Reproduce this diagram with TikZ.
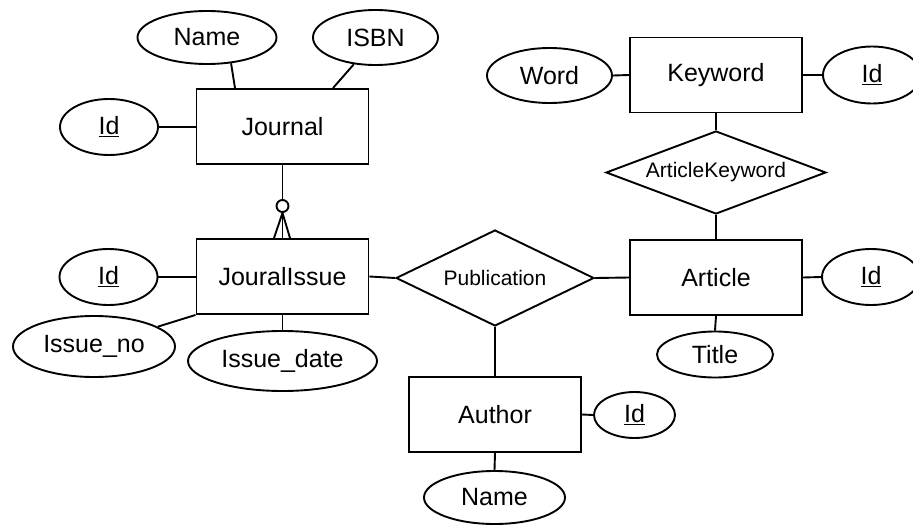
\documentclass[tikz,border=0pt]{standalone}
\usepackage{fontspec}
\setmainfont{Liberation Sans}
\usetikzlibrary{shapes.geometric}
\begin{document}
\begin{tikzpicture}[x=1pt,y=-1pt, line width=1.9pt,
  entity/.style={draw, rectangle, minimum width=172pt, minimum height=75pt, inner sep=0pt, font=\fontsize{25}{30}\selectfont},
  attr/.style={draw, ellipse, inner sep=0pt, font=\fontsize{25}{30}\selectfont},
  rel/.style={draw, diamond, shape aspect=3, inner sep=0pt, font=\fontsize{21}{25}\selectfont},
  foot/.style={draw, circle, minimum size=12pt, inner sep=0pt}]
\useasboundingbox (0,0) rectangle (913,527);
\fill[white] (0,0) rectangle (913,527);
% entities
\node[entity] (jn) at (282.5,126.5) {Journal};
\node[entity] (ji) at (282.5,276.5) {JouralIssue};
\node[entity] (kw) at (716,75) {Keyword};
\node[entity] (ar) at (716,277.5) {Article};
\node[entity] (au) at (495,414.5) {Author};
% relationships
\node[rel, minimum width=198pt, minimum height=96pt] (pub) at (495,278) {Publication};
\node[rel, minimum width=220pt, minimum height=83pt] (ak) at (716,172.5) {ArticleKeyword};
% attributes
\node[attr, minimum width=139pt, minimum height=53pt] (jname) at (207,37.5) {Name};
\node[attr, minimum width=125pt, minimum height=55pt] (isbn) at (375.5,37.5) {ISBN};
\node[attr, minimum width=98pt, minimum height=56pt] (jid) at (109,127) {\underline{Id}};
\node[attr, minimum width=98pt, minimum height=56pt] (jiid) at (108.5,277) {\underline{Id}};
\node[attr, minimum width=162pt, minimum height=61pt] (ino) at (94,346.5) {Issue\_no};
\node[attr, minimum width=189pt, minimum height=60pt] (idate) at (282.5,361) {Issue\_date};
\node[attr, minimum width=125pt, minimum height=55pt] (word) at (549.5,75.5) {Word};
\node[attr, minimum width=98pt, minimum height=57pt] (kwid) at (872,75) {\underline{Id}};
\node[attr, minimum width=98pt, minimum height=56pt] (arid) at (871,277) {\underline{Id}};
\node[attr, minimum width=116pt, minimum height=46pt] (title) at (715,354.5) {Title};
\node[attr, minimum width=81pt, minimum height=46pt] (auid) at (634.5,415) {\underline{Id}};
\node[attr, minimum width=141pt, minimum height=53pt] (auname) at (494.5,497.5) {Name};
% crow's foot circle
\node[foot] (cf) at (282.5,206) {};
% connectors
\draw (jname.-47) -- ([xshift=-47.5pt]jn.north);
\draw (isbn.-129.5) -- ([xshift=50.5pt]jn.north);
\draw (jid.east) -- (jid.east -| jn.west);
\draw (jn.south) -- (cf.north);
\draw (cf.south) -- (ji.north);
\draw (cf.south) -- ([xshift=-8.5pt]ji.north);
\draw (cf.south) -- ([xshift=7.5pt]ji.north);
\draw (jiid.east) -- (jiid.east -| ji.west);
\draw (ji.south west) -- (ino);
\draw (ji.south) -- (idate.north);
\draw (ji.east) -- (pub.west);
\draw (pub.east) -- (ar.west);
\draw (pub.south) -- (au.north);
\draw (kw.south) -- (ak.north);
\draw (ak.south) -- (ak.south |- ar.north);
\draw (word.east) -- (kw.west);
\draw (kw.east) -- (kwid.west);
\draw (ar.east) -- (arid.west);
\draw (ar.south) -- (title.north);
\draw (au.east) -- (auid.west);
\draw (au.south) -- (auname.north);
\end{tikzpicture}
\end{document}
